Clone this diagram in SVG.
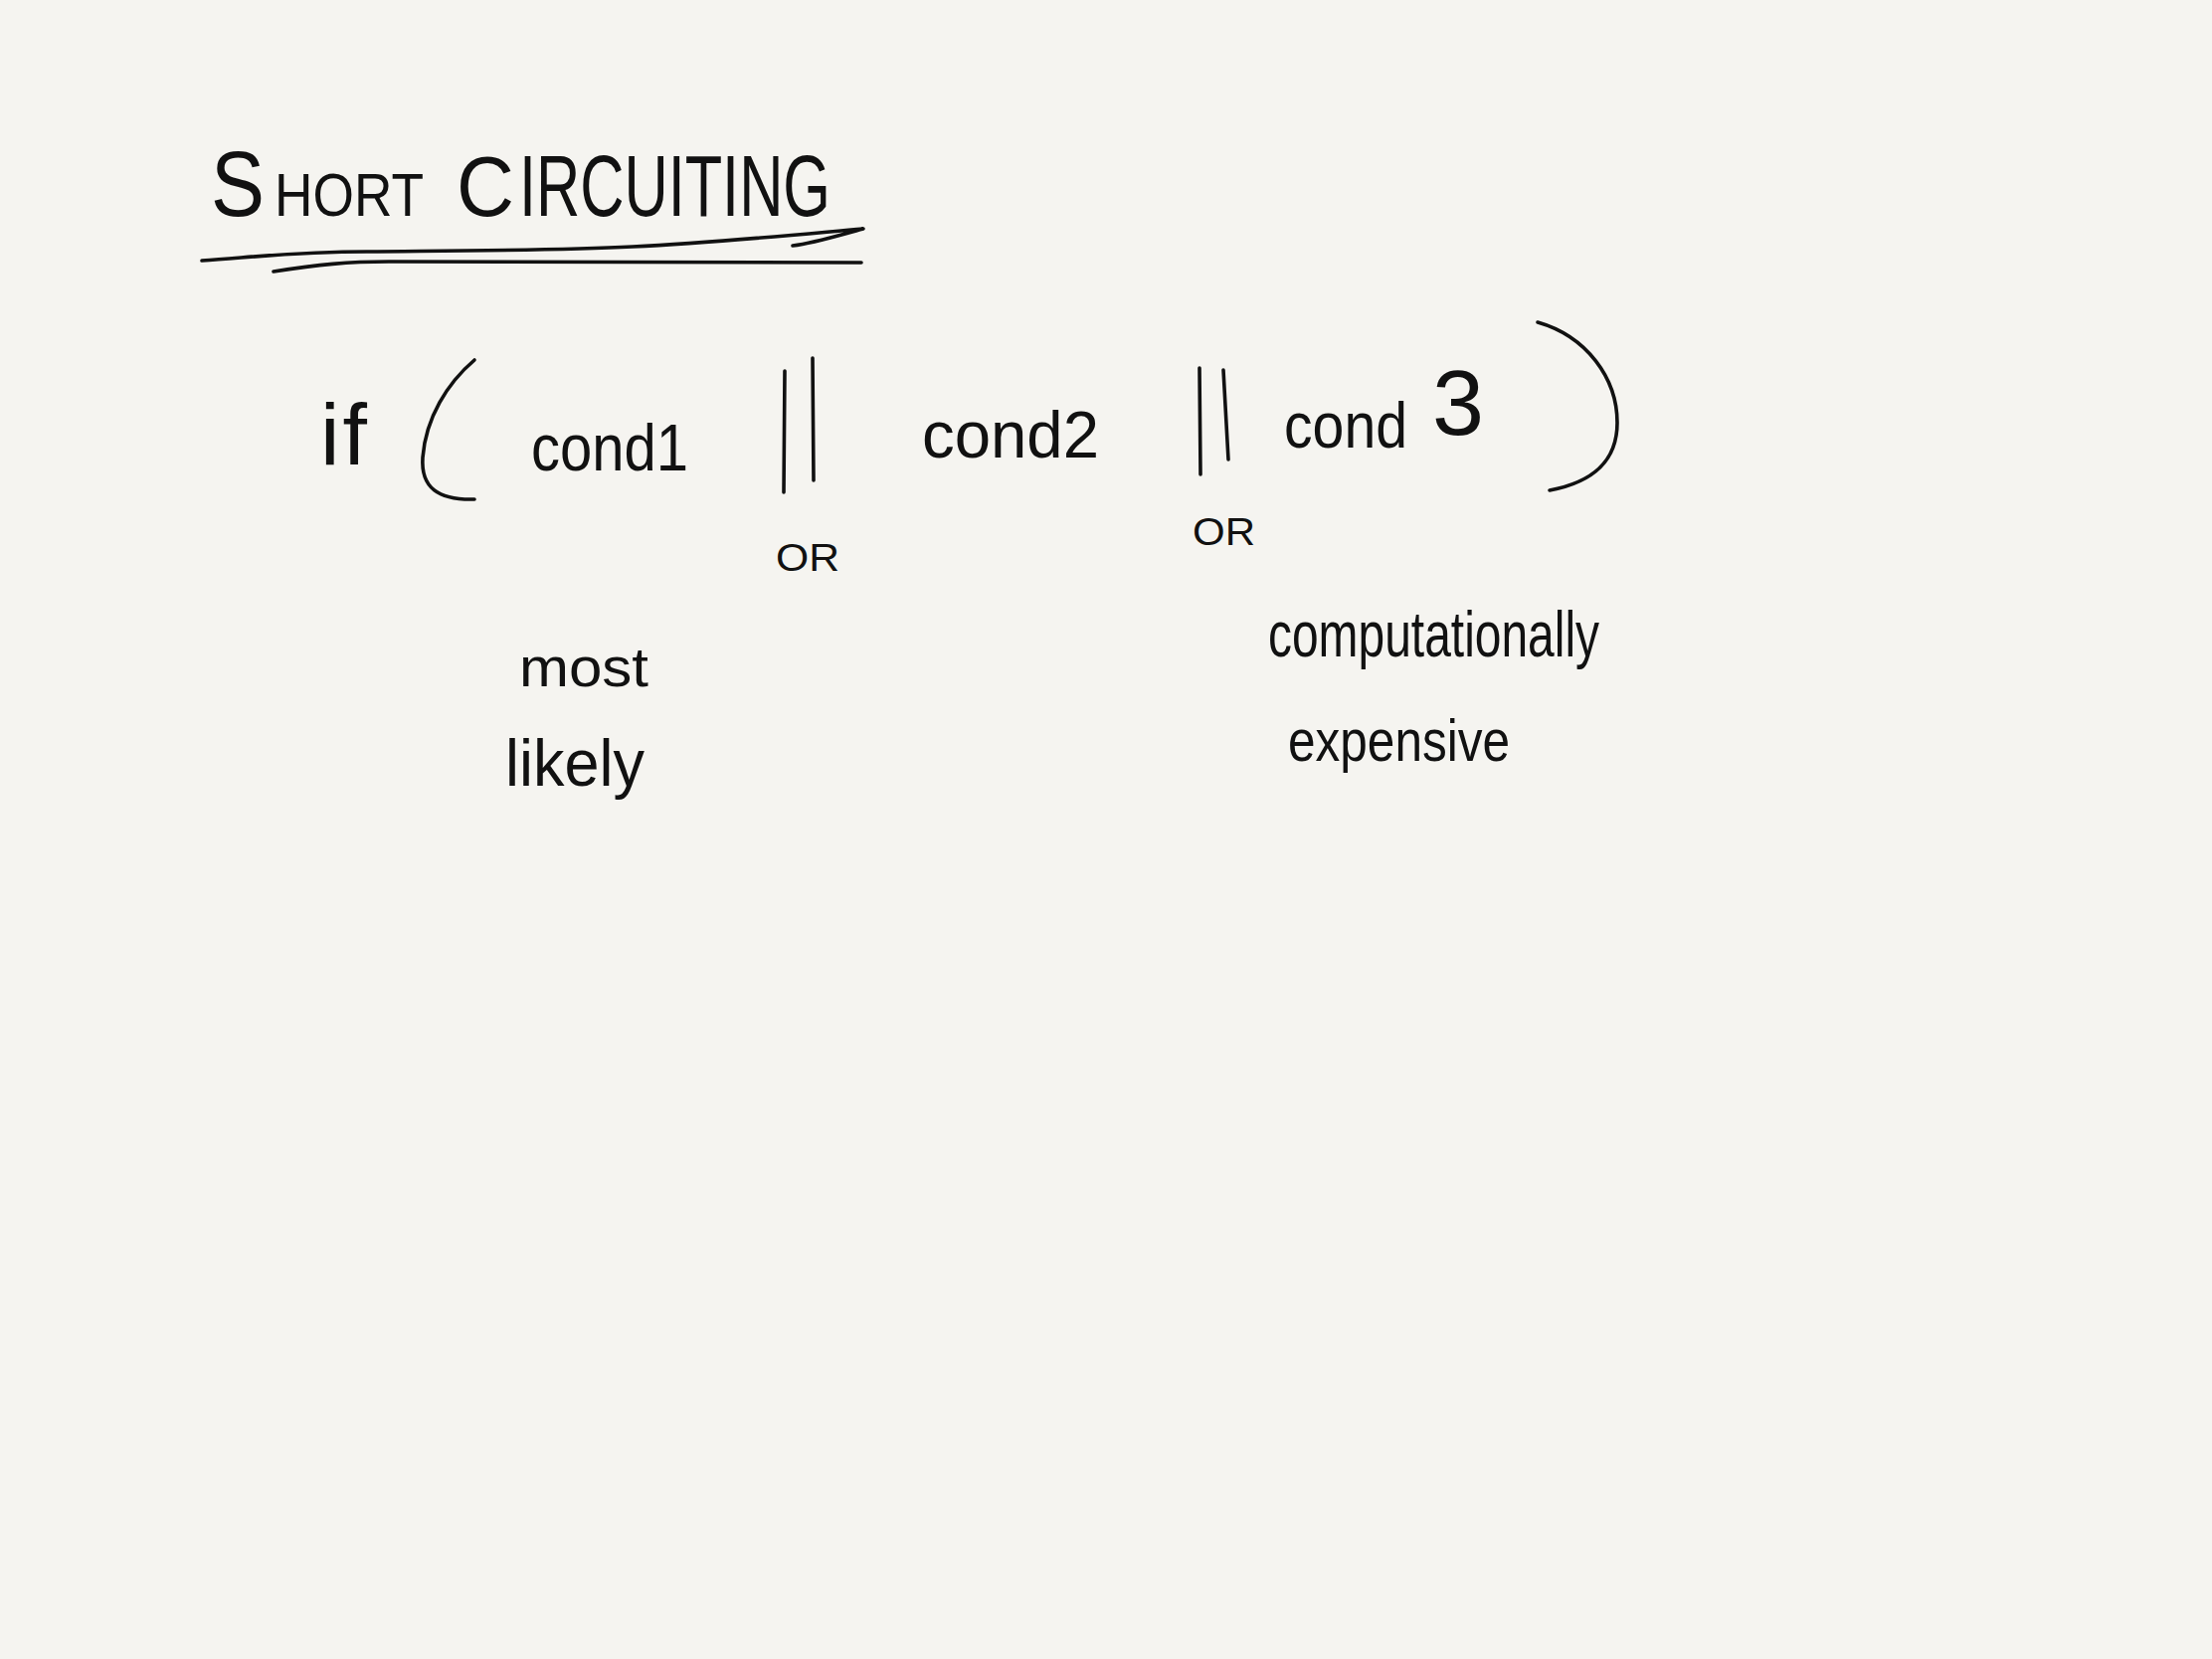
<svg xmlns="http://www.w3.org/2000/svg" width="2224" height="1668" viewBox="0 0 2224 1668">
<style>
.ink{fill:none;stroke:#111;stroke-width:3.6;stroke-linecap:round;stroke-linejoin:round}
.t{font-family:"Liberation Sans","DejaVu Sans",sans-serif;fill:#111}
</style>
<rect width="2224" height="1668" fill="#f5f4f0"/>
<g id="title">
<text class="t" y="217"><tspan x="212" font-size="92" textLength="54" lengthAdjust="spacingAndGlyphs">S</tspan><tspan x="276" font-size="62" textLength="150" lengthAdjust="spacingAndGlyphs">HORT</tspan><tspan x="459" font-size="86" textLength="58" lengthAdjust="spacingAndGlyphs">C</tspan><tspan x="522" font-size="88" textLength="313" lengthAdjust="spacingAndGlyphs">IRCUITING</tspan></text>
<path class="ink" d="M203 262 C260 258 300 253 369 253 C470 252 560 252 636 248 C720 244 800 236 868 230 C845 236 820 244 797 247"/>
<path class="ink" d="M275 273 C320 266 350 263 391 263 C560 262 720 263 866 264"/>
</g>
<g id="if-statement">
<text class="t" x="322" y="467" font-size="88" letter-spacing="3">if</text>
<path class="ink" d="M477 362 C450 385 428 420 425 460 C423 490 440 503 477 502"/>
<text class="t" x="534" y="473" font-size="66" textLength="158" lengthAdjust="spacingAndGlyphs">cond1</text>
<path class="ink" d="M789 373 L788 495 M817 360 L818 483"/>
<text class="t" x="927" y="460" font-size="66" textLength="178" lengthAdjust="spacingAndGlyphs">cond2</text>
<path class="ink" d="M1206 370 L1207 477 M1230 372 L1235 462"/>
<text class="t" y="450"><tspan x="1291" font-size="64" textLength="124" lengthAdjust="spacingAndGlyphs">cond</tspan><tspan x="1440" y="437" font-size="92" textLength="52" lengthAdjust="spacingAndGlyphs">3</tspan></text>
<path class="ink" d="M1546 324 C1595 338 1626 380 1626 425 C1626 465 1600 485 1558 493"/>
</g>
<g id="or-labels">
<text class="t" x="780" y="574" font-size="38" textLength="64" lengthAdjust="spacingAndGlyphs">OR</text>
<text class="t" x="1199" y="548" font-size="38" textLength="63" lengthAdjust="spacingAndGlyphs">OR</text>
</g>
<g id="most-likely">
<text class="t" x="522" y="690" font-size="56" textLength="130" lengthAdjust="spacingAndGlyphs">most</text>
<text class="t" x="508" y="790" font-size="66" textLength="140" lengthAdjust="spacingAndGlyphs">likely</text>
</g>
<g id="computationally-expensive">
<text class="t" x="1275" y="660" font-size="64" textLength="333" lengthAdjust="spacingAndGlyphs">computationally</text>
<text class="t" x="1295" y="765" font-size="60" textLength="223" lengthAdjust="spacingAndGlyphs">expensive</text>
</g>
<g id="connectors"/>
</svg>
